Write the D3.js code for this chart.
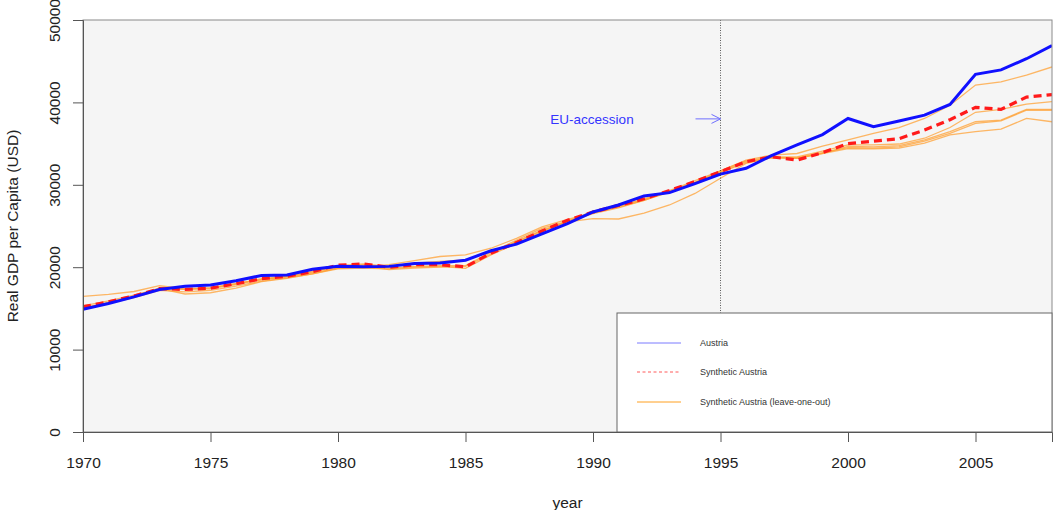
<!DOCTYPE html>
<html>
<head>
<meta charset="utf-8">
<script src="https://cdn.jsdelivr.net/npm/d3@7"></script>
<style>
  html, body { margin: 0; padding: 0; background: #ffffff; }
  svg { display: block; font-family: "Liberation Sans", Arial, sans-serif; }
</style>
</head>
<body>
<svg id="chart" width="1053" height="510"></svg>
<script>
// ---------------- data ----------------
const years = d3.range(1970, 2009);

const austria = [14900, 15600, 16400, 17300, 17700, 17850, 18350, 19000, 19050, 19750,
  20100, 20050, 20100, 20450, 20500, 20850, 22000, 22800, 24050, 25300,
  26700, 27550, 28650, 29050, 30150, 31300, 32000, 33550, 34850, 36100,
  38050, 37050, 37750, 38450, 39750, 43400, 43950, 45300, 46900];

const synthetic = [15200, 15800, 16500, 17400, 17300, 17450, 18000, 18600, 18900, 19450,
  20250, 20400, 20000, 20300, 20300, 20050, 21700, 23000, 24400, 25700,
  26700, 27500, 28300, 29300, 30400, 31600, 32800, 33400, 33000, 33900,
  35000, 35300, 35600, 36650, 37900, 39400, 39150, 40650, 40950];

const leaveOut1 = [15000, 15700, 16500, 17500, 17300, 17400, 17900, 18500, 18800, 19300,
  19900, 20000, 20300, 20800, 21300, 21500, 22300, 23500, 24900, 25800,
  26600, 27300, 28100, 29200, 30300, 31700, 33000, 33600, 33800, 34700,
  35450, 36250, 36950, 38050, 39650, 42100, 42500, 43300, 44300];

const leaveOut2 = [16450, 16700, 17050, 17750, 17400, 17500, 18000, 18500, 18900, 19400,
  20100, 20300, 19900, 20100, 20200, 20200, 21800, 23300, 24700, 25600,
  26800, 27400, 28300, 29300, 30500, 31700, 32900, 33400, 33400, 34100,
  34850, 34850, 34950, 35650, 36950, 38800, 39150, 39800, 40100];

const leaveOut3 = [15100, 15700, 16400, 17400, 16750, 16900, 17450, 18250, 18650, 19200,
  19800, 19900, 19800, 20000, 20100, 19850, 21500, 22900, 24300, 25600,
  26600, 27400, 28200, 29200, 30300, 31500, 32700, 33300, 33200, 33800,
  34650, 34600, 34750, 35450, 36450, 37650, 37850, 39150, 39150];

const leaveOut4 = [15000, 15600, 16300, 17200, 17000, 17200, 17700, 18300, 18700, 19200,
  19900, 20100, 19700, 19900, 20000, 20100, 21600, 23100, 24500, 25500,
  26500, 27200, 28100, 29100, 30200, 31500, 32800, 33300, 33300, 33900,
  34500, 34450, 34600, 35300, 36250, 37450, 37750, 39050, 39050];

const leaveOut5 = [15300, 15900, 16600, 17400, 17300, 17500, 18000, 18600, 18900, 19500,
  20200, 20400, 20100, 20500, 20700, 20900, 21900, 23100, 24400, 25500,
  25900, 25850, 26550, 27550, 28950, 30800, 32600, 33300, 33200, 33800,
  34400, 34350, 34450, 35050, 36050, 36450, 36750, 38050, 37650];

const leaveOneOut = [leaveOut1, leaveOut2, leaveOut3, leaveOut4, leaveOut5];

const xTicks = [1970, 1975, 1980, 1985, 1990, 1995, 2000, 2005];
const yTicks = [0, 10000, 20000, 30000, 40000, 50000];
const treatmentYear = 1995;
const arrowValue = 38000;
const legendLabels = ["Austria", "Synthetic Austria", "Synthetic Austria (leave-one-out)"];

// ---------------- layout ----------------
const svg = d3.select("#chart");
const pLeft = 83, pRight = 1052, pTop = 20, pBottom = 432;

const x = d3.scaleLinear().domain([1970, 2008]).range([pLeft, pRight]);
const y = d3.scaleLinear().domain([0, 50000]).range([pBottom, pTop]);

// plot background
svg.append("rect")
  .attr("x", pLeft).attr("y", pTop)
  .attr("width", pRight - pLeft).attr("height", pBottom - pTop)
  .attr("fill", "#f5f5f5");

svg.append("defs").append("clipPath").attr("id", "clip")
  .append("rect").attr("x", pLeft).attr("y", pTop)
  .attr("width", pRight - pLeft).attr("height", pBottom - pTop);

const line = d3.line().x((d, i) => x(years[i])).y(d => y(d));
const g = svg.append("g").attr("clip-path", "url(#clip)");

// leave-one-out lines
leaveOneOut.forEach(s => {
  g.append("path").datum(s)
    .attr("d", line)
    .attr("fill", "none")
    .attr("stroke", "#ffa033")
    .attr("stroke-opacity", 0.75)
    .attr("stroke-width", 1.3);
});

// synthetic
g.append("path").datum(synthetic)
  .attr("d", line)
  .attr("fill", "none")
  .attr("stroke", "#ff1a1a")
  .attr("stroke-width", 3.2)
  .attr("stroke-dasharray", "8,5");

// actual
g.append("path").datum(austria)
  .attr("d", line)
  .attr("fill", "none")
  .attr("stroke", "#1010ff")
  .attr("stroke-width", 3);

// treatment line
svg.append("line")
  .attr("x1", x(treatmentYear)).attr("x2", x(treatmentYear))
  .attr("y1", pTop).attr("y2", pBottom)
  .attr("stroke", "#333")
  .attr("stroke-width", 0.8)
  .attr("stroke-dasharray", "1,1.5");

// EU accession annotation
const ay = y(arrowValue);
const ax1 = x(treatmentYear) - 25, ax2 = x(treatmentYear);
svg.append("line")
  .attr("x1", ax1).attr("x2", ax2).attr("y1", ay).attr("y2", ay)
  .attr("stroke", "#6f6fff").attr("stroke-width", 1);
svg.append("path")
  .attr("d", `M${ax2 - 9},${ay - 4.5} L${ax2},${ay} L${ax2 - 9},${ay + 4.5}`)
  .attr("fill", "none").attr("stroke", "#6f6fff").attr("stroke-width", 1);
svg.append("text")
  .attr("x", 592).attr("y", ay + 5)
  .attr("text-anchor", "middle")
  .attr("font-size", 13.5)
  .attr("fill", "#3434ff")
  .text("EU-accession");

// frame
svg.append("rect")
  .attr("x", pLeft).attr("y", pTop)
  .attr("width", pRight - pLeft).attr("height", pBottom - pTop)
  .attr("fill", "none").attr("stroke", "#8a8a8a").attr("stroke-width", 1);

// legend
const lg = svg.append("g");
lg.append("rect")
  .attr("x", 617).attr("y", 313).attr("width", 435).attr("height", 119)
  .attr("fill", "#ffffff").attr("stroke", "#666").attr("stroke-width", 1);
const legendStyles = [
  { color: "#7a7aff", dash: null },
  { color: "#ff5a5a", dash: "3,2.5" },
  { color: "#ffa020", dash: null }
];
const legendY = [343, 372, 402];
legendLabels.forEach((lab, i) => {
  lg.append("line")
    .attr("x1", 637).attr("x2", 681)
    .attr("y1", legendY[i]).attr("y2", legendY[i])
    .attr("stroke", legendStyles[i].color)
    .attr("stroke-width", 1)
    .attr("stroke-dasharray", legendStyles[i].dash);
  lg.append("text")
    .attr("x", 700).attr("y", legendY[i] + 3)
    .attr("font-size", 9)
    .attr("fill", "#333")
    .text(lab);
});

// axes
const xAxis = svg.append("g")
  .attr("transform", `translate(0,${pBottom})`)
  .call(d3.axisBottom(x).tickValues(xTicks).tickFormat(d3.format("d")).tickSize(10).tickPadding(0));
xAxis.select(".domain").attr("stroke", "#555");
xAxis.selectAll(".tick line").attr("stroke", "#555");
xAxis.selectAll(".tick text")
  .attr("font-size", 15.5).attr("fill", "#222")
  .attr("dy", null).attr("y", 36)
  .attr("font-family", "Liberation Sans, Arial, sans-serif");

const yAxis = svg.append("g")
  .attr("transform", `translate(${pLeft},0)`)
  .call(d3.axisLeft(y).tickValues(yTicks).tickFormat(d3.format("d")).tickSize(10));
yAxis.select(".domain").attr("stroke", "#555");
yAxis.selectAll(".tick line").attr("stroke", "#555");
yAxis.selectAll(".tick text")
  .attr("font-size", 15.5).attr("fill", "#222")
  .attr("font-family", "Liberation Sans, Arial, sans-serif")
  .attr("x", null).attr("dy", null)
  .attr("text-anchor", "middle")
  .attr("transform", "translate(-23,0) rotate(-90)");

// axis titles
svg.append("text")
  .attr("x", (pLeft + pRight) / 2).attr("y", 508)
  .attr("text-anchor", "middle")
  .attr("font-size", 15.5).attr("fill", "#222")
  .text("year");
svg.append("text")
  .attr("transform", `translate(18,${(pTop + pBottom) / 2}) rotate(-90)`)
  .attr("text-anchor", "middle")
  .attr("font-size", 15.5).attr("fill", "#222")
  .text("Real GDP per Capita (USD)");
</script>
</body>
</html>
